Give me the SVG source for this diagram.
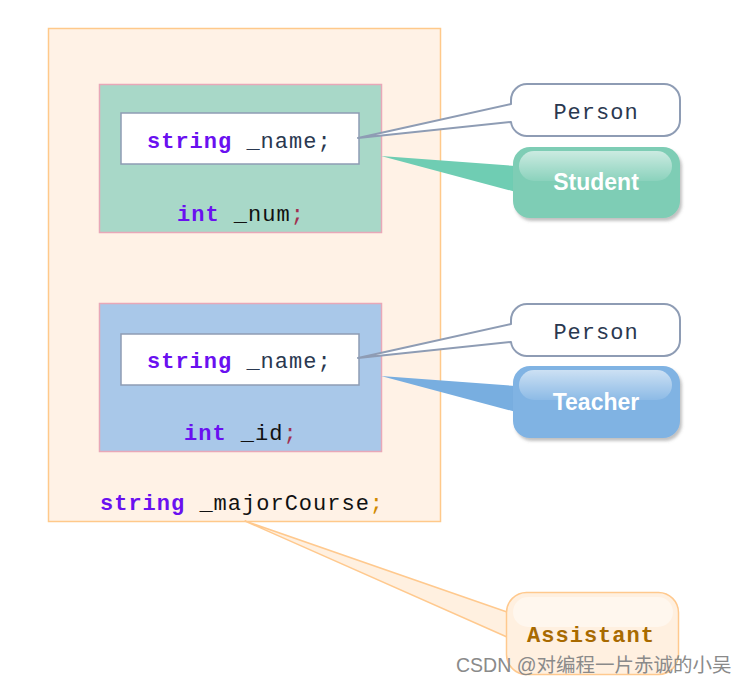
<svg xmlns="http://www.w3.org/2000/svg" width="744" height="684" viewBox="0 0 744 684">
<defs>
<style>
.code{font-family:"Liberation Mono","DejaVu Sans Mono",monospace;font-size:22px;letter-spacing:1px}
.kw{fill:#6a10f0;font-weight:bold}
.id{fill:#2a3850}
.blk{fill:#111}
.semi{fill:#a03050}
.lbl{font-family:"Liberation Sans","DejaVu Sans",sans-serif;font-size:23px;font-weight:bold;fill:#ffffff;text-anchor:middle}
.person{fill:#ffffff;stroke:#8e9cb4;stroke-width:2;stroke-linejoin:round}
.inner{fill:#ffffff;stroke:#8e9cb4;stroke-width:1.5}
</style>
<filter id="sh" x="-10%" y="-10%" width="130%" height="140%">
<feDropShadow dx="2" dy="3" stdDeviation="1.5" flood-color="#777" flood-opacity="0.45"/>
</filter>
<linearGradient id="gloss" x1="0" y1="0" x2="0" y2="1">
<stop offset="0" stop-color="#ffffff" stop-opacity="0.6"/>
<stop offset="1" stop-color="#ffffff" stop-opacity="0.1"/>
</linearGradient>
</defs>

<g id="assistant-outer">
<rect x="48.5" y="28.5" width="392" height="493" fill="#fff2e6" stroke="#ffc98a" stroke-width="1.5"/>
<text x="100" y="510" class="code"><tspan class="kw">string</tspan><tspan class="blk"> _majorCourse</tspan><tspan fill="#d08a00">;</tspan></text>
</g>

<g id="student-box">
<rect x="99.5" y="84.5" width="282" height="148" fill="#a8d8c8" stroke="#e8a8b8" stroke-width="1.5"/>
<rect x="121" y="113" width="238" height="51" class="inner"/>
<text x="147" y="148" class="code"><tspan class="kw">string</tspan><tspan class="id"> _name;</tspan></text>
<text x="177" y="221" class="code"><tspan class="kw">int</tspan><tspan class="blk"> _num</tspan><tspan class="semi">;</tspan></text>
</g>

<g id="teacher-box">
<rect x="99.5" y="303.5" width="282" height="148" fill="#a9c8e9" stroke="#e8a8b8" stroke-width="1.5"/>
<rect x="121" y="334" width="238" height="51" class="inner"/>
<text x="147" y="368" class="code"><tspan class="kw">string</tspan><tspan class="id"> _name;</tspan></text>
<text x="184" y="440" class="code"><tspan class="kw">int</tspan><tspan class="blk"> _id</tspan><tspan class="semi">;</tspan></text>
</g>

<g id="connectors">
<path d="M527,84 H664 A16,16 0 0 1 680,100 V120 A16,16 0 0 1 664,136 H527 A16,16 0 0 1 511,122 L358,138 L511,104 V100 A16,16 0 0 1 527,84 Z" class="person"/>
<path d="M527,304 H664 A16,16 0 0 1 680,320 V340 A16,16 0 0 1 664,356 H527 A16,16 0 0 1 511,342 L358,358 L511,324 V320 A16,16 0 0 1 527,304 Z" class="person"/>
<path d="M381,156 L516,166 L516,192 Z" fill="#6fcdb3"/>
<path d="M381,376 L516,386 L516,412 Z" fill="#78aee0"/>
<path d="M245,521 L507,612 L507,637 Z" fill="#fff0e0" stroke="#ffc98e" stroke-width="1.5" stroke-linejoin="round"/>
</g>

<g id="person-1">
<text x="596" y="119" class="code id" text-anchor="middle">Person</text>
</g>

<g id="student-label">
<rect x="513" y="147" width="167" height="71" rx="17" fill="#7ecdb5" filter="url(#sh)"/>
<rect x="519" y="151" width="153" height="30" rx="15" fill="url(#gloss)"/>
<text x="596" y="190" class="lbl">Student</text>
</g>

<g id="person-2">
<text x="596" y="339" class="code id" text-anchor="middle">Person</text>
</g>

<g id="teacher-label">
<rect x="513" y="366" width="167" height="72" rx="17" fill="#80b3e3" filter="url(#sh)"/>
<rect x="519" y="370" width="153" height="30" rx="15" fill="url(#gloss)"/>
<text x="596" y="410" class="lbl">Teacher</text>
</g>

<g id="assistant-label">
<rect x="506.5" y="592.5" width="172" height="82" rx="20" fill="#fff0e0" stroke="#ffc98e" stroke-width="1.5"/>
<rect x="513" y="597" width="160" height="30" rx="15" fill="#ffffff" opacity="0.45"/>
<text x="591" y="642" class="code" text-anchor="middle" fill="#a86a00" font-weight="bold">Assistant</text>
</g>

<text x="456" y="672" font-family="'Liberation Sans','Noto Sans CJK SC',sans-serif" font-size="19.5" fill="#8a8a8a">CSDN @对编程一片赤诚的小吴</text>
</svg>
